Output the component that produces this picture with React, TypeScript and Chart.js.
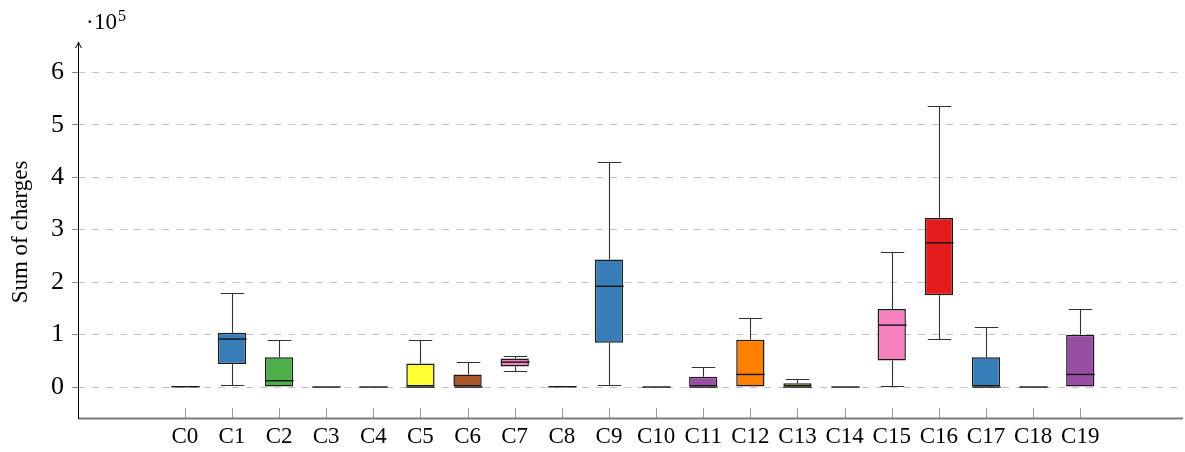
import React, { useEffect, useRef } from 'react';
import { Chart, registerables } from 'chart.js';

Chart.register(...registerables);

const categories = ['C0', 'C1', 'C2', 'C3', 'C4', 'C5', 'C6', 'C7', 'C8', 'C9', 'C10', 'C11', 'C12', 'C13', 'C14', 'C15', 'C16', 'C17', 'C18', 'C19'];
const whiskerLow = [0, 3800, 0, 0, 0, 0, 0, 30000, 0, 3000, 0, 0, 0, 0, 0, 2500, 91400, 0, 0, 0];
const quartile1 = [0, 43800, 0, 0, 0, 0, 0, 39000, 0, 84500, 0, 0, 0, 0, 0, 50800, 175000, 0, 0, 0];
const medians = [600, 91400, 12000, 0, 0, 0, 0, 47600, 600, 192000, 0, 0, 24000, 0, 0, 118000, 275000, 0, 0, 24000];
const quartile3 = [1000, 103400, 56600, 0, 0, 45000, 24000, 54600, 1000, 243000, 0, 19700, 90000, 7000, 0, 148600, 322000, 56600, 0, 99700];
const whiskerHigh = [1500, 179000, 89500, 0, 0, 89500, 48000, 60000, 1500, 429000, 0, 38700, 131000, 15200, 0, 258000, 535000, 113700, 0, 149000];
const palette = ['#e41a1c', '#377eb8', '#4daf4a', '#984ea3', '#ff7f00', '#ffff33', '#a65628', '#f781bf'];
const yTickValues = [0, 100000, 200000, 300000, 400000, 500000, 600000];
const yTitle = 'Sum of charges';

const SERIF = '"Liberation Serif", "DejaVu Serif", serif';

const boxPlugin = {
  id: 'boxDetails',
  afterDatasetsDraw(chart: any) {
    const { ctx, chartArea, scales } = chart;
    const x = scales.x;
    const y = scales.y;
    const meta = chart.getDatasetMeta(0);
    const px = (v: number) => Math.round(v) + 0.5;
    ctx.save();
    ctx.setLineDash([]);
    categories.forEach((_, i) => {
      const bar = meta.data[i];
      const half = bar.width / 2;
      const capHalf = half * 0.83;
      const cx = px(x.getPixelForValue(i));
      const yq1 = y.getPixelForValue(quartile1[i]);
      const yq3 = y.getPixelForValue(quartile3[i]);
      const ylo = y.getPixelForValue(whiskerLow[i]);
      const yhi = y.getPixelForValue(whiskerHigh[i]);
      const ymed = y.getPixelForValue(medians[i]);
      ctx.strokeStyle = '#333';
      ctx.lineWidth = 1.1;
      if (whiskerHigh[i] > quartile3[i] + 500) {
        ctx.beginPath();
        ctx.moveTo(cx, yq3);
        ctx.lineTo(cx, px(yhi));
        ctx.moveTo(cx - capHalf, px(yhi));
        ctx.lineTo(cx + capHalf, px(yhi));
        ctx.stroke();
      }
      if (whiskerLow[i] < quartile1[i] - 500) {
        ctx.beginPath();
        ctx.moveTo(cx, yq1);
        ctx.lineTo(cx, px(ylo));
        ctx.moveTo(cx - capHalf, px(ylo));
        ctx.lineTo(cx + capHalf, px(ylo));
        ctx.stroke();
      }
      ctx.strokeStyle = '#111';
      ctx.lineWidth = 1.4;
      ctx.beginPath();
      ctx.moveTo(cx - half, ymed);
      ctx.lineTo(cx + half, ymed);
      ctx.stroke();
    });

    // x axis line and inner tick marks
    const bottom = chartArea.bottom;
    ctx.strokeStyle = '#9a9a9a';
    ctx.lineWidth = 1;
    x.ticks.forEach((t: any) => {
      const tx = px(x.getPixelForValue(t.value));
      ctx.beginPath();
      ctx.moveTo(tx, bottom - 10);
      ctx.lineTo(tx, bottom);
      ctx.stroke();
    });
    ctx.strokeStyle = '#7a7a7a';
    ctx.lineWidth = 2;
    ctx.beginPath();
    ctx.moveTo(chartArea.left, bottom + 0.5);
    ctx.lineTo(chartArea.right, bottom + 0.5);
    ctx.stroke();

    // y axis line with arrow
    const ax = px(chartArea.left);
    const tipY = chartArea.top - 4;
    ctx.strokeStyle = '#000';
    ctx.lineWidth = 1;
    ctx.beginPath();
    ctx.moveTo(ax, bottom + 1);
    ctx.lineTo(ax, tipY);
    ctx.stroke();
    ctx.beginPath();
    ctx.moveTo(ax - 3, tipY + 6);
    ctx.quadraticCurveTo(ax - 0.5, tipY + 2, ax, tipY);
    ctx.quadraticCurveTo(ax + 0.5, tipY + 2, ax + 3, tipY + 6);
    ctx.stroke();

    // exponent label
    ctx.fillStyle = '#000';
    ctx.textAlign = 'left';
    ctx.textBaseline = 'alphabetic';
    ctx.font = '23px ' + SERIF;
    ctx.fillText('\u00b7', 86, 29);
    ctx.fillText('10', 94, 29);
    ctx.font = '16px ' + SERIF;
    ctx.fillText('5', 118, 21);
    ctx.restore();
  },
};

export default function App() {
  const canvasRef = useRef<HTMLCanvasElement | null>(null);

  useEffect(() => {
    const canvas = canvasRef.current;
    if (!canvas) return;
    let chart: Chart | null = null;
    let cancelled = false;
    const build = () => {
      if (cancelled) return;
      chart = new Chart(canvas, {
        type: 'bar',
        data: {
          datasets: [
            {
              label: 'boxes',
              data: categories.map((_, i) => ({ x: i, y: [quartile1[i], quartile3[i]] })) as any,
              backgroundColor: categories.map((_, i) => palette[i % palette.length]),
              borderColor: '#1a1a1a',
              borderWidth: 1.5,
              borderSkipped: false,
              barPercentage: 0.6,
              categoryPercentage: 1,
            },
          ],
        },
        options: {
          responsive: false,
          animation: false,
          layout: { padding: { top: 46, right: 2, left: 0, bottom: 0 } },
          plugins: {
            legend: { display: false },
            tooltip: { enabled: false },
          },
          scales: {
            x: {
              type: 'linear',
              min: -2.266,
              max: 21.18,
              offset: false,
              afterBuildTicks: (scale: any) => {
                scale.ticks = categories.map((_, i) => ({ value: i }));
              },
              afterFit: (scale: any) => {
                scale.height = 34;
              },
              grid: { display: false, drawTicks: false, offset: false },
              border: { display: false },
              ticks: {
                autoSkip: false,
                maxRotation: 0,
                padding: 5,
                color: '#000',
                font: { family: SERIF, size: 23 },
                callback: (v: any) => categories[Number(v)] ?? '',
              },
            },
            y: {
              type: 'linear',
              min: -59000,
              max: 650000,
              afterBuildTicks: (scale: any) => {
                scale.ticks = yTickValues.map((v) => ({ value: v }));
              },
              afterFit: (scale: any) => {
                scale.width = 78;
              },
              grid: {
                color: '#c4c4c4',
                lineWidth: 1,
                tickLength: 6,
                tickColor: '#8a8a8a',
              },
              border: { display: false, dash: [7, 7] },
              ticks: {
                padding: 8,
                color: '#000',
                font: { family: SERIF, size: 26 },
                callback: (v: any) => String(Math.round(Number(v) / 100000)),
              },
              title: {
                display: true,
                text: yTitle,
                color: '#000',
                padding: { top: 7, bottom: 0 },
                font: { family: SERIF, size: 23 },
              },
            },
          },
        },
        plugins: [boxPlugin],
      });
    };
    const fonts: any = (document as any).fonts;
    if (fonts && fonts.load) {
      Promise.all([
        fonts.load('23px "Liberation Serif"'),
        fonts.load('26px "Liberation Serif"'),
        fonts.load('16px "Liberation Serif"'),
      ]).then(build, build);
    } else {
      build();
    }
    return () => {
      cancelled = true;
      if (chart) chart.destroy();
    };
  }, []);

  return (
    <div style={{ position: 'absolute', left: 0, top: 0, width: 1185, height: 452, background: '#fff' }}>
      <canvas ref={canvasRef} width={1185} height={452} style={{ display: 'block' }} />
    </div>
  );
}
